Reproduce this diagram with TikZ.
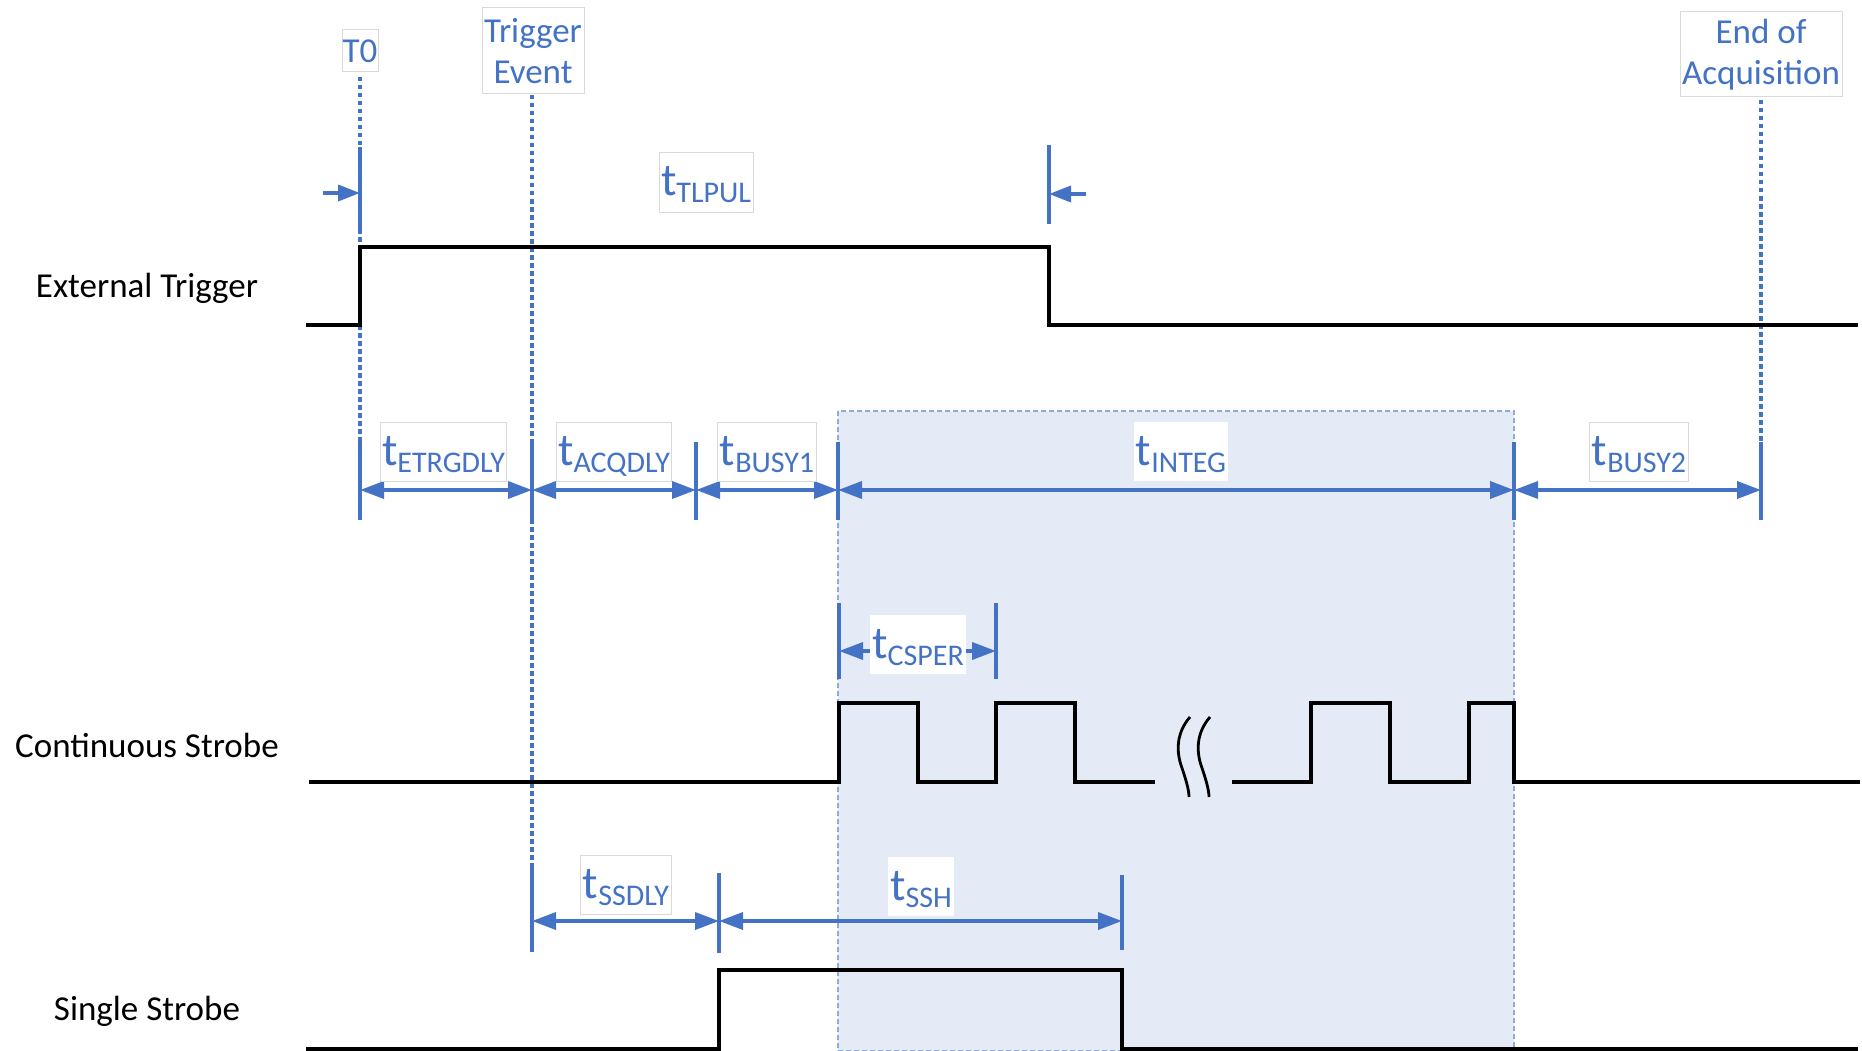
\documentclass[tikz,border=0pt]{standalone}
\usepackage{fontspec}
\setmainfont{Carlito}
\usetikzlibrary{arrows.meta}
\definecolor{tblue}{HTML}{4472C4}
\definecolor{boxgray}{HTML}{D9D9D9}
\definecolor{shadefill}{RGB}{229,235,246}
\definecolor{shadeedge}{RGB}{143,170,220}
\newcommand{\tsub}[1]{{\fontsize{46}{50}\selectfont t}\raisebox{-7pt}{\fontsize{30}{34}\selectfont #1}}
\begin{document}
\begin{tikzpicture}[x=1pt,y=-1pt,
 sig/.style={line width=3.4pt, black, line join=miter},
 dimbar/.style={line width=3.8pt, tblue},
 dimarrow/.style={line width=3.6pt, tblue, {Triangle[length=24pt,width=17pt]}-{Triangle[length=24pt,width=17pt]}},
 onearrow/.style={line width=3.6pt, tblue, -{Triangle[length=22pt,width=16pt]}},
 guide/.style={line width=3.6pt, tblue, dash pattern=on 4.5pt off 3.5pt},
 tlab/.style={fill=white, draw=boxgray, line width=1pt, inner xsep=2pt, inner ysep=0pt, text height=43pt, text depth=16pt, anchor=base, text=tblue},
 tlabin/.style={tlab, draw=none},
 evlab/.style={fill=white, draw=boxgray, line width=1pt, inner sep=0pt, text=tblue, font=\fontsize{35}{41}\selectfont, align=center},
 siglab/.style={font=\fontsize{35}{41}\selectfont, text=black}
]
\useasboundingbox (0,0) rectangle (1862,1051);

% shaded integration window
\draw[fill=shadefill, draw=shadeedge, line width=1.2pt, dash pattern=on 5pt off 3pt] (838,411) rectangle (1514,1051);

% coordinates
\coordinate (t0top) at (360,77);
\coordinate (t0a) at (360,442);
\coordinate (t0b) at (360,520);
\coordinate (tetop) at (532,95);
\coordinate (tea) at (532,442);
\coordinate (teb) at (532,520);
\coordinate (tec) at (532,868);
\coordinate (ted) at (532,952);
\coordinate (eoatop) at (1761,100);
\coordinate (eoaa) at (1761,442);
\coordinate (eoab) at (1761,520);

% guide lines
\draw[guide] (t0top) -- (t0a);
\draw[guide] (tetop) -- (tec);
\draw[guide] (eoatop) -- (eoaa);

% event labels
\node[evlab, minimum width=36pt, minimum height=42pt] (T0) at (360,51) {T0};
\node[evlab, minimum width=102pt, minimum height=86pt] (TE) at (533,51) {Trigger\\Event};
\node[evlab, minimum width=162pt, minimum height=85pt] (EOA) at (1761,54.5) {End of\\Acquisition};

% signal labels
\node[siglab] (lext) at (147,288) {External Trigger};
\node[siglab] (lcont) at (147,745) {Continuous Strobe};
\node[siglab] (lsing) at (147,1011) {Single Strobe};

% signals
\draw[sig] (306,325) -- (360,325) -- (360,247) -- (1049,247) -- (1049,325) -- (1858,325);
\draw[sig] (309,782) -- (839,782) -- (839,703) -- (918,703) -- (918,782) -- (996,782) -- (996,703) -- (1075,703) -- (1075,782) -- (1155,782);
\draw[sig] (1232,782) -- (1311,782) -- (1311,703) -- (1390,703) -- (1390,782) -- (1469,782) -- (1469,703) -- (1514,703) -- (1514,782) -- (1860,782);
\draw[line width=2.8pt, black] (1190,717) .. controls (1176,733) and (1176,752) .. (1182,768) .. controls (1186,780) and (1189,790) .. (1189,797);
\draw[line width=2.8pt, black] (1210,717) .. controls (1196,733) and (1196,752) .. (1202,768) .. controls (1206,780) and (1209,790) .. (1209,797);
\draw[sig] (306,1049) -- (719,1049) -- (719,970) -- (1122,970) -- (1122,1049) -- (1858,1049);

% tTLPUL
\coordinate (pl1) at (360,147); \coordinate (pl2) at (360,232);
\coordinate (pr1) at (1049,145); \coordinate (pr2) at (1049,224);
\coordinate (pla) at (323,193); \coordinate (plb) at (360,193);
\coordinate (pra) at (1086,194); \coordinate (prb) at (1049,194);
\draw[dimbar] (pl1) -- (pl2);
\draw[dimbar] (pr1) -- (pr2);
\draw[onearrow] (pla) -- (plb);
\draw[onearrow] (pra) -- (prb);
\node[tlab] (ltlpul) at (706,196) {\tsub{TLPUL}};

% main timing row
\coordinate (bA1) at (696,442); \coordinate (bA2) at (696,520);
\coordinate (bB1) at (838,442); \coordinate (bB2) at (838,520);
\coordinate (bC1) at (1514,442); \coordinate (bC2) at (1514,520);
\draw[dimbar] (t0a) -- (t0b);
\draw[dimbar] (tea) -- (teb);
\draw[dimbar] (bA1) -- (bA2);
\draw[dimbar] (bB1) -- (bB2);
\draw[dimbar] (bC1) -- (bC2);
\draw[dimbar] (eoaa) -- (eoab);
\coordinate (r0) at (360,490); \coordinate (r1) at (532,490); \coordinate (r2) at (696,490);
\coordinate (r3) at (838,490); \coordinate (r4) at (1514,490); \coordinate (r5) at (1761,490);
\draw[dimarrow] (r0) -- (r1);
\draw[dimarrow] (r1) -- (r2);
\draw[dimarrow] (r2) -- (r3);
\draw[dimarrow] (r3) -- (r4);
\draw[dimarrow] (r4) -- (r5);
\node[tlab] (letrg) at (443.5,465) {\tsub{ETRGDLY}};
\node[tlab] (lacq) at (614,465) {\tsub{ACQDLY}};
\node[tlab] (lbusy1) at (767,465) {\tsub{BUSY1}};
\node[tlabin] (linteg) at (1181,465) {\tsub{INTEG}};
\node[tlab] (lbusy2) at (1639,465) {\tsub{BUSY2}};

% tCSPER
\coordinate (c1a) at (839,603); \coordinate (c1b) at (839,679);
\coordinate (c2a) at (996,603); \coordinate (c2b) at (996,679);
\coordinate (ca) at (839,651); \coordinate (cb) at (996,651);
\draw[dimbar] (c1a) -- (c1b);
\draw[dimbar] (c2a) -- (c2b);
\draw[dimarrow] (ca) -- (cb);
\node[tlabin] (lcsper) at (918,658) {\tsub{CSPER}};

% single strobe timing
\coordinate (s1a) at (719,873); \coordinate (s1b) at (719,953);
\coordinate (s2a) at (1122,875); \coordinate (s2b) at (1122,950);
\coordinate (sa) at (532,921); \coordinate (sb) at (719,921); \coordinate (sc) at (1122,921);
\draw[dimbar] (tec) -- (ted);
\draw[dimbar] (s1a) -- (s1b);
\draw[dimbar] (s2a) -- (s2b);
\draw[dimarrow] (sa) -- (sb);
\draw[dimarrow] (sb) -- (sc);
\node[tlab] (lssdly) at (626,898) {\tsub{SSDLY}};
\node[tlabin] (lssh) at (921,900) {\tsub{SSH}};
\end{tikzpicture}
\end{document}
